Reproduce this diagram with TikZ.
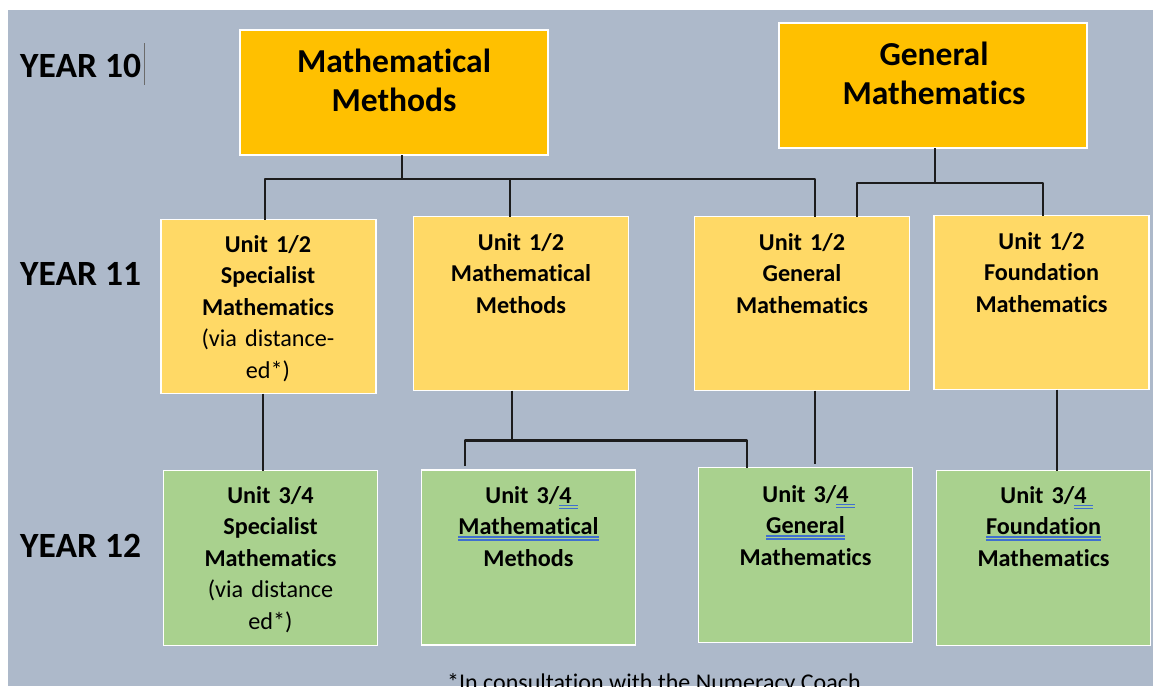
\documentclass[tikz,border=0pt]{standalone}
\usepackage{fontspec}
\setmainfont{Carlito}[Ligatures=NoCommon]
\definecolor{bgc}{HTML}{ADB9CA}
\definecolor{c10}{HTML}{FFC000}
\definecolor{c11}{HTML}{FFD966}
\definecolor{c12}{HTML}{A9D18E}
\definecolor{lc}{HTML}{1C1C1C}
\definecolor{ulblue}{HTML}{3F6FD0}
\definecolor{caretc}{HTML}{6B6B6B}
\newsavebox\myulbox
\newlength\myulw
\newcommand\bluu[2][0pt]{\leavevmode\sbox\myulbox{#2}\setlength\myulw{\dimexpr\wd\myulbox+#1\relax}%
  \rlap{\textcolor{ulblue}{\vrule width\myulw height-1.8pt depth3.4pt\kern-\myulw\vrule width\myulw height-4.6pt depth6.2pt}}\usebox\myulbox}
\tikzset{
  boxbase/.style={draw=white, line width=1.5pt, inner sep=0pt, outer sep=0pt},
  box10/.style={boxbase, fill=c10, minimum width=308pt, minimum height=125pt},
  box11/.style={boxbase, fill=c11, minimum width=215pt, minimum height=174pt},
  box12/.style={boxbase, fill=c12, minimum width=214pt, minimum height=175pt},
  txtbig/.style={text width=300pt, align=center, inner sep=0pt, anchor=base,
                 font=\fontsize{33.5}{39.5}\selectfont\bfseries},
  txtsm/.style={text width=210pt, align=center, inner sep=0pt, anchor=base,
                font=\fontsize{24.2}{31.5}\selectfont\bfseries},
  lbl/.style={anchor=base west, inner sep=0pt, font=\fontsize{35.5}{40}\selectfont\bfseries},
  conn/.style={draw=lc, line width=2.5pt, line join=round},
}
\begin{document}
\begin{tikzpicture}[x=1pt,y=-1pt]
\useasboundingbox (0,0) rectangle (1153,686);
\clip (0,0) rectangle (1153,686);
\fill[white] (0,0) rectangle (1153,686);
\fill[bgc] (8,10) rectangle (1153,686);

% year labels
\node[lbl] (y10) at (20,77) {YEAR 10};
\node[lbl] (y11) at (20,285) {YEAR 11};
\node[lbl] (y12) at (20,557) {YEAR 12};
\draw[caretc, line width=1pt] (144,43) -- (144,85);

% boxes
\node[box10] (m10) at (394,92.5) {};
\node[box10] (g10) at (933,85.5) {};
\node[box11] (s11) at (268.5,306.5) {};
\node[box11] (m11) at (521,303.5) {};
\node[box11] (g11) at (802,303.5) {};
\node[box11] (f11) at (1041.5,302.5) {};
\node[box12] (s12) at (270.5,558) {};
\node[box12] (m12) at (528.5,557.5) {};
\node[box12] (g12) at (805.5,555) {};
\node[box12] (f12) at (1043.5,558) {};

% texts
\node[txtbig] (tm10) at (394,72) {Mathematical\\Methods};
\node[txtbig] (tg10) at (934,65) {General\\Mathematics};
\node[txtsm] (ts11) at (268,252) {Unit 1/2\\Specialist\\Mathematics\\{\mdseries(via distance-}\\{\mdseries ed*)}};
\node[txtsm] (tm11) at (521,250) {Unit 1/2\\Mathematical\\Methods};
\node[txtsm] (tg11) at (802,250) {Unit 1/2\\General\\Mathematics};
\node[txtsm] (tf11) at (1041.5,249) {Unit 1/2\\Foundation\\Mathematics};
\node[txtsm] (ts12) at (270.5,503) {Unit 3/4\\Specialist\\Mathematics\\{\mdseries(via distance}\\{\mdseries ed*)}};
\node[txtsm] (tm12) at (528.5,503) {Unit 3/\bluu[6pt]{4}\\\bluu{Mathematical}\\Methods};
\node[txtsm] (tg12) at (805.5,502) {Unit 3/\bluu[6pt]{4}\\\bluu{General}\\Mathematics};
\node[txtsm] (tf12) at (1043.5,503) {Unit 3/\bluu[6pt]{4}\\\bluu{Foundation}\\Mathematics};

% connectors Year 10 -> Year 11
\draw[conn] ([xshift=8pt]m10.south) -- ++(0,24) coordinate (j1);
\draw[conn] ([xshift=-3.5pt]s11.north) |- (j1) -| ([xshift=13pt]g11.north);
\draw[conn] ([xshift=-11pt]m11.north) coordinate (a0) -- (a0 |- j1);
\draw[conn] ([xshift=2pt]g10.south) -- ++(0,35) coordinate (j2);
\draw[conn] ([xshift=55pt]g11.north) |- (j2) -| ([xshift=1.5pt]f11.north);

% connectors Year 11 -> Year 12
\draw[conn] ([xshift=-5.5pt]s11.south) coordinate (a1) -- (a1 |- s12.north);
\draw[conn] ([xshift=-9pt]m11.south) -- ++(0,50) coordinate (j3);
\draw[conn] ([xshift=-63.5pt]m12.north) ++(0,-4) |- (j3) -| ([xshift=-58.5pt]g12.north);
\draw[conn] ([xshift=13pt]g11.south) -- ++(0,73);
\draw[conn] ([xshift=15.5pt]f11.south) coordinate (a2) -- (a2 |- f12.north);

% footnote
\node[anchor=base west, inner sep=0pt, font=\fontsize{24}{28}\selectfont] (foot) at (447,690) {*In consultation with the Numeracy Coach};
\end{tikzpicture}
\end{document}
